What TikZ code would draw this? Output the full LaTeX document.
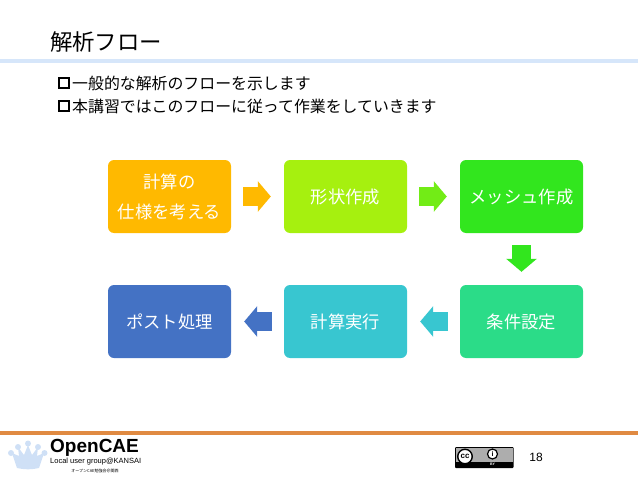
\documentclass[tikz,border=0pt]{standalone}
\usepackage{fontspec}
\setmainfont{Noto Sans CJK JP}
\newfontfamily\latinfont{Liberation Sans}
\usetikzlibrary{arrows.meta,positioning}

\definecolor{flowA}{HTML}{FFB900}
\definecolor{flowB}{HTML}{A6F00F}
\definecolor{flowC}{HTML}{32E61E}
\definecolor{flowD}{HTML}{2BDC88}
\definecolor{flowE}{HTML}{38C6D0}
\definecolor{flowF}{HTML}{4472C4}
\definecolor{barblue}{HTML}{D6E6FA}
\definecolor{barorange}{HTML}{E08A42}
\definecolor{crownblue}{HTML}{CFE0F6}

\begin{document}
\begin{tikzpicture}[x=1pt,y=1pt,node distance=176pt]
  \tikzstyle{flowbox}=[rectangle,rounded corners=6pt,minimum width=123pt,minimum height=73pt,
    text=white,align=center,font=\fontsize{17.3}{30}\selectfont,inner sep=0pt]
  \tikzstyle{blockarrow}=[line width=19pt,shorten <=12pt,shorten >=13pt,
    -{Triangle[length=13pt,width=30pt]}]
  \tikzstyle{bodyline}=[anchor=west,inner sep=0pt,font=\fontsize{15.9}{16}\selectfont]
  \tikzstyle{bulletbox}=[rectangle,draw=black,line width=2pt,minimum size=9.5pt,inner sep=0pt]
  \useasboundingbox (0,0) rectangle (638,-479);

  \fill[barblue] (0,-59) rectangle (638,-63);
  \fill[barorange] (0,-431) rectangle (638,-435);

  \node[anchor=west,inner sep=0pt,font=\fontsize{22.4}{24}\selectfont] (title) at (50,-42) {解析フロー};
  \node[bulletbox] (bulA) at (64,-83) {};
  \node[bulletbox] (bulB) at (64,-106) {};
  \node[bodyline] (lineA) at (72,-83) {一般的な解析のフローを示します};
  \node[bodyline] (lineB) at (72,-106) {本講習ではこのフローに従って作業をしていきます};

  \node[flowbox,fill=flowA] (spec) at (169.5,-196.5) {計算の\\仕様を考える};
  \node[flowbox,fill=flowB] (shape) [right of=spec] {形状作成};
  \node[flowbox,fill=flowC] (mesh) [right of=shape] {メッシュ作成};
  \node[flowbox,fill=flowD] (cond) [below of=mesh,node distance=125pt] {条件設定};
  \node[flowbox,fill=flowE] (run) [left of=cond] {計算実行};
  \node[flowbox,fill=flowF] (post) [left of=run] {ポスト処理};

  \draw[blockarrow,draw=flowA,fill=flowA] (spec) -- (shape);
  \draw[blockarrow,draw=flowB!55!flowC,fill=flowB!55!flowC] (shape) -- (mesh);
  \draw[blockarrow,draw=flowC,fill=flowC] (mesh) -- (cond);
  \draw[blockarrow,draw=flowE,fill=flowE] (cond) -- (run);
  \draw[blockarrow,draw=flowF,fill=flowF] (run) -- (post);

  % crown of the logo
  \fill[crownblue] (12,-453) -- (19,-456) -- (18,-447) -- (24,-455) -- (28,-445)
    -- (32,-455) -- (38,-447) -- (37,-456) -- (44,-453) -- (39,-468)
    to[bend left=12] (17,-468) -- cycle;
  \fill[crownblue] (11,-453) circle (3pt) (18,-447) circle (3pt) (28,-443.5) circle (3pt)
    (38,-447) circle (3pt) (44.5,-453) circle (3pt);
  \node[anchor=west,inner sep=0pt,font=\latinfont\bfseries\fontsize{19}{22}\selectfont] (logo) at (50,-448) {OpenCAE};
  \node[anchor=west,inner sep=0pt,font=\latinfont\fontsize{7.5}{8}\selectfont] (group) at (50,-462) {Local user group@KANSAI};
  \node[anchor=center,inner sep=0pt,font=\fontsize{4}{5}\selectfont] (study) at (95,-471) {オープンCAE勉強会＠関西};

  % licence badge
  \fill[black,rounded corners=1pt] (455,-447) rectangle (513.5,-468);
  \fill[black!32] (456,-448) rectangle (512.5,-461.5);
  \node[circle,draw=black,fill=white,line width=1.4pt,minimum size=14.5pt,inner sep=0pt,
    font=\latinfont\bfseries\fontsize{8}{8}\selectfont] (cc) at (465,-456.5) {cc};
  \node[circle,draw=black,fill=white,line width=1.2pt,minimum size=10pt,inner sep=0pt,
    font=\latinfont\bfseries\fontsize{7}{7}\selectfont] (by) at (492.5,-454) {i};
  \node[inner sep=0pt,text=white,font=\latinfont\bfseries\fontsize{3.5}{4}\selectfont] (bytext) at (492.5,-464.5) {BY};

  \node[inner sep=0pt,font=\latinfont\fontsize{12}{12}\selectfont] (page) at (536,-457) {18};
\end{tikzpicture}
\end{document}
